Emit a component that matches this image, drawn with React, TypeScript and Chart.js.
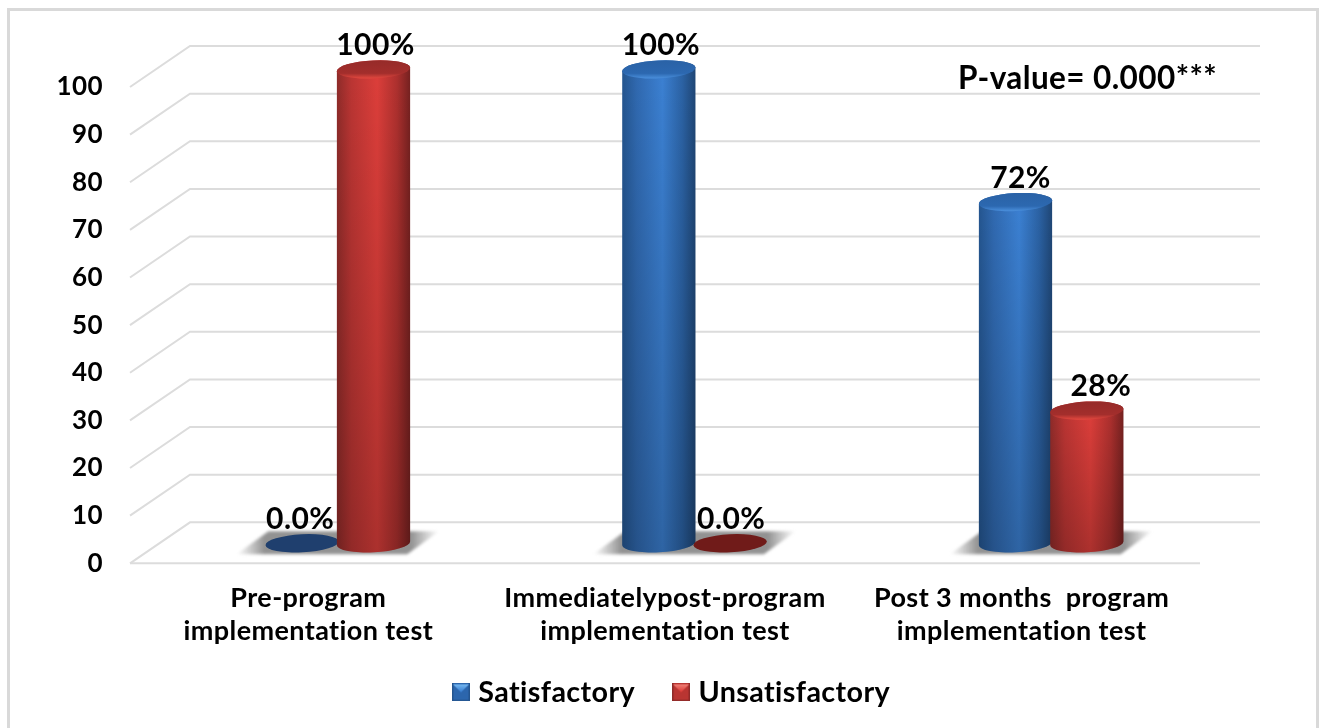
import React, { useEffect, useRef } from "react";
import { Chart, registerables } from "chart.js";

Chart.register(...registerables);

const categories: string[][] = [
  ["Pre-program", "implementation test"],
  ["Immediatelypost-program", "implementation test"],
  ["Post 3 months  program", "implementation test"],
];
const satisfactory = [0, 100, 72];
const unsatisfactory = [100, 0, 28];
const satisfactoryLabels = ["0.0%", "100%", "72%"];
const unsatisfactoryLabels = ["100%", "0.0%", "28%"];
const yTicks = { min: 0, max: 100, step: 10 };
const annotation = "P-value= 0.000***";

const FONT = "Lato, 'Open Sans', sans-serif";
const DEPTH_X = 60;
const DEPTH_Y = -41;
const BAR_DX = 29.5;
const BAR_DY = -20;
const RADIUS_Y = 9;
const TILT = -0.05;
const LEGEND_PAD = 43;
const HEIGHT_K = 0.995;

const palette = [
  {
    edgeL: "#24558f", nearL: "#3069b0", mid: "#3b80d2", nearR: "#2b62a4", edgeR: "#1f4675",
    capTop: "#2a62a6", capMid: "#2c68b0", capRim: "#4a8fdc", flat: "#1f3f6e",
    shine: "#7fc0f5", icon: "#2c66ad",
  },
  {
    edgeL: "#8e2b29", nearL: "#bb3533", mid: "#dc3e3a", nearR: "#ad302e", edgeR: "#752120",
    capTop: "#962b29", capMid: "#a32e2c", capRim: "#e2483f", flat: "#701b19",
    shine: "#f28a80", icon: "#b93532",
  },
];
const labelNudge = [
  [-2, 2, 5],
  [2, 1, 14],
];

function makeIcon(c: (typeof palette)[number]) {
  const s = 18;
  const cv = document.createElement("canvas");
  cv.width = s;
  cv.height = s;
  const g = cv.getContext("2d")!;
  g.fillStyle = c.icon;
  g.fillRect(0, 0, s, s);
  g.fillStyle = c.edgeL;
  g.fillRect(0, 0, 1.5, s);
  g.fillRect(s - 1.5, 0, 1.5, s);
  g.fillRect(0, s - 1.5, s, 1.5);
  const gr = g.createLinearGradient(0, 0, 0, 8);
  gr.addColorStop(0, c.shine);
  gr.addColorStop(1, c.mid);
  g.fillStyle = gr;
  g.beginPath();
  g.moveTo(1, 1);
  g.lineTo(s - 1, 1);
  g.lineTo(s / 2, 9);
  g.closePath();
  g.fill();
  return cv;
}

const textSpacing = {
  id: "textSpacing",
  beforeLayout(chart: any) {
    chart.ctx.letterSpacing = "0.4px";
  },
  beforeDraw(chart: any) {
    chart.ctx.letterSpacing = "0.4px";
  },
  afterLayout(chart: any) {
    const lg = chart.legend;
    const dx = 74;
    const dy = 635 - lg.top;
    lg.left += dx;
    lg.right += dx;
    lg.top += dy;
    lg.bottom += dy;
  },
};

const frameAndWalls = {
  id: "frameAndWalls",
  beforeDatasetsDraw(chart: any) {
    const { ctx, scales, chartArea } = chart;
    ctx.save();
    ctx.strokeStyle = "#d9d9d9";
    ctx.lineWidth = 3;
    ctx.strokeRect(8.5, 9.5, 1309, 740);
    ctx.strokeStyle = "#dcdcdc";
    ctx.lineWidth = 2;
    scales.y.ticks.forEach((t: any) => {
      const y = scales.y.getPixelForValue(t.value);
      ctx.beginPath();
      ctx.moveTo(chartArea.left, y);
      ctx.lineTo(chartArea.left + DEPTH_X, y + DEPTH_Y);
      ctx.lineTo(chartArea.right + DEPTH_X, y + DEPTH_Y);
      ctx.stroke();
    });
    ctx.beginPath();
    ctx.moveTo(chartArea.left, chartArea.bottom);
    ctx.lineTo(chartArea.right, chartArea.bottom);
    ctx.stroke();
    ctx.restore();
  },
};

function drawCylinder(ctx: CanvasRenderingContext2D, bar: any, c: (typeof palette)[number]) {
  const a = bar.width / 2 + 1;
  const cx = bar.x + BAR_DX;
  const by = bar.base + BAR_DY;
  const h = (bar.base - bar.y) * HEIGHT_K;
  const ty = by - h;
  ctx.save();
  if (h < 1) {
    ctx.fillStyle = c.flat;
    ctx.beginPath();
    ctx.ellipse(cx, by, a, RADIUS_Y, TILT, 0, Math.PI * 2);
    ctx.fill();
    ctx.restore();
    return;
  }
  const body = () => {
    ctx.beginPath();
    ctx.ellipse(cx, by, a, RADIUS_Y, TILT, Math.PI, 0, true);
    ctx.ellipse(cx, ty, a, RADIUS_Y, TILT, 0, Math.PI, true);
    ctx.closePath();
  };
  const g = ctx.createLinearGradient(cx - a, 0, cx + a, 0);
  g.addColorStop(0, c.edgeL);
  g.addColorStop(0.2, c.nearL);
  g.addColorStop(0.55, c.mid);
  g.addColorStop(0.82, c.nearR);
  g.addColorStop(1, c.edgeR);
  ctx.fillStyle = g;
  body();
  ctx.fill();
  const v = ctx.createLinearGradient(0, ty, 0, by + RADIUS_Y);
  v.addColorStop(0, "rgba(0,0,0,0)");
  v.addColorStop(1, "rgba(0,0,0,0.22)");
  ctx.fillStyle = v;
  body();
  ctx.fill();
  const cap = ctx.createLinearGradient(0, ty - RADIUS_Y, 0, ty + RADIUS_Y);
  cap.addColorStop(0, c.capTop);
  cap.addColorStop(0.72, c.capMid);
  cap.addColorStop(1, c.capRim);
  ctx.fillStyle = cap;
  ctx.beginPath();
  ctx.ellipse(cx, ty, a, RADIUS_Y, TILT, 0, Math.PI * 2);
  ctx.fill();
  ctx.restore();
}

const cylinders = {
  id: "cylinders",
  afterDatasetsDraw(chart: any) {
    const { ctx } = chart;
    const m0 = chart.getDatasetMeta(0).data;
    const m1 = chart.getDatasetMeta(1).data;
    // floor shadows
    m0.forEach((b0: any, i: number) => {
      const b1 = m1[i];
      const w = b0.width / 2;
      const l = b0.x + BAR_DX - w;
      const r = b1.x + BAR_DX + w;
      const base = b0.base + BAR_DY;
      const yT = base - 12;
      const yB = base + 11;
      ctx.save();
      const g = ctx.createLinearGradient(l - 30, 0, r + 30, 0);
      const span = r - l + 60;
      g.addColorStop(0, "rgba(150,150,150,0)");
      g.addColorStop(28 / span, "rgba(140,140,140,0.95)");
      g.addColorStop(1 - 28 / span, "rgba(140,140,140,0.95)");
      g.addColorStop(1, "rgba(150,150,150,0)");
      ctx.fillStyle = g;
      ctx.filter = "blur(1.5px)";
      ctx.beginPath();
      ctx.moveTo(l - 30, yB);
      ctx.lineTo(l + 2, yT);
      ctx.lineTo(r + 30, yT);
      ctx.lineTo(r - 2, yB);
      ctx.closePath();
      ctx.fill();
      ctx.restore();
    });
    chart.data.datasets.forEach((_: any, d: number) => {
      chart.getDatasetMeta(d).data.forEach((bar: any) => drawCylinder(ctx, bar, palette[d]));
    });
    // value labels
    ctx.save();
    ctx.fillStyle = "#000";
    ctx.font = `bold 30px ${FONT}`;
    ctx.textAlign = "center";
    ctx.textBaseline = "middle";
    [satisfactoryLabels, unsatisfactoryLabels].forEach((labels, d) => {
      chart.getDatasetMeta(d).data.forEach((bar: any, i: number) => {
        const h = (bar.base - bar.y) * HEIGHT_K;
        ctx.fillText(labels[i], bar.x + BAR_DX + labelNudge[d][i], bar.base + BAR_DY - h - 24);
      });
    });
    ctx.textAlign = "left";
    ctx.font = `bold 31.5px ${FONT}`;
    ctx.fillText(annotation, 958, 79);
    ctx.restore();
  },
};

export default function App() {
  const ref = useRef<HTMLCanvasElement>(null);
  useEffect(() => {
    const icons = palette.map(makeIcon);
    const chart = new Chart(ref.current!, {
      type: "bar",
      data: {
        labels: categories,
        datasets: [
          { label: "Satisfactory", data: satisfactory, backgroundColor: "rgba(0,0,0,0)" },
          { label: "Unsatisfactory", data: unsatisfactory, backgroundColor: "rgba(0,0,0,0)" },
        ],
      },
      plugins: [textSpacing, frameAndWalls, cylinders],
      options: {
        responsive: false,
        animation: false,
        layout: { padding: { top: 87, right: 121, left: 0, bottom: 0 } },
        datasets: { bar: { categoryPercentage: 0.4, barPercentage: 1 } },
        plugins: {
          tooltip: { enabled: false },
          legend: {
            position: "bottom",
            labels: {
              usePointStyle: true,
              pointStyleWidth: 6,
              color: "#000",
              font: { family: FONT, size: 28.7, weight: "bold" },
              padding: LEGEND_PAD,
              generateLabels(c: any) {
                const items = Chart.defaults.plugins.legend.labels.generateLabels(c);
                items.forEach((it: any, i: number) => {
                  it.pointStyle = icons[i];
                  it.fontColor = "#000";
                });
                return items;
              },
            },
          },
        },
        scales: {
          x: {
            grid: { display: false },
            border: { display: false },
            afterFit(s: any) {
              s.height = 83;
            },
            ticks: {
              autoSkip: false,
              maxRotation: 0,
              minRotation: 0,
              padding: 10,
              color: "#000",
              font: { family: FONT, size: 27, weight: "bold", lineHeight: "33px" },
            },
          },
          y: {
            min: yTicks.min,
            max: yTicks.max,
            grid: { display: false, drawTicks: false },
            border: { display: false },
            afterFit(s: any) {
              s.width = 130;
            },
            ticks: {
              stepSize: yTicks.step,
              padding: 27,
              color: "#000",
              font: { family: FONT, size: 26, weight: "bold" },
            },
          },
        },
      } as any,
    });
    return () => chart.destroy();
  }, []);
  return (
    <div style={{ position: "fixed", left: 0, top: 0, background: "#fff" }}>
      <canvas ref={ref} width={1321} height={728} style={{ display: "block" }} />
    </div>
  );
}
